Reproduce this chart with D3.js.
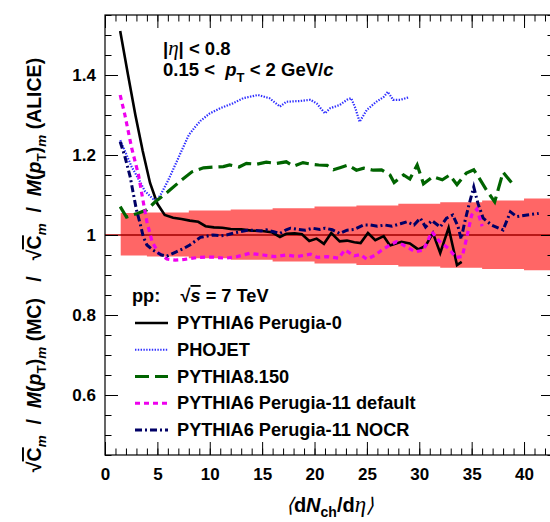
<!DOCTYPE html>
<html>
<head>
<meta charset="utf-8">
<script src="https://cdn.jsdelivr.net/npm/d3@7"></script>
<style>
    body { margin: 0; background: #fff; }
    svg { display: block; font-family: "Liberation Sans", Arial, sans-serif; font-weight: bold; }
    svg text { white-space: pre; }
    .ol { text-decoration: overline; }
</style>
</head>
<body>
<svg id="chart" width="550" height="522"></svg>
<script>
// values, <dNch/deta> on x, ratio on y

var p0X = [1.45, 2.2, 2.9, 3.6, 4.3, 5.0, 5.7, 6.5, 7.3, 8.1, 8.9, 9.6, 10.4, 11.2, 12.0, 13.0, 14.0, 15.0, 15.9, 16.7, 17.3, 18.1, 18.8, 19.5, 20.2, 20.9, 21.6, 22.4, 23.1, 23.8, 24.4, 25.1, 25.8, 26.6, 27.2, 28.3, 29.1, 29.9, 30.6, 31.3, 32.0, 32.8, 33.6, 34.05];
var p0Y = [1.51, 1.40, 1.30, 1.21, 1.13, 1.078, 1.05, 1.043, 1.04, 1.036, 1.033, 1.022, 1.019, 1.018, 1.015, 1.014, 1.011, 1.010, 1.007, 0.995, 1.003, 1.004, 1.002, 0.985, 0.991, 0.978, 1.005, 0.984, 0.986, 0.982, 0.980, 1.005, 0.987, 0.997, 0.974, 0.983, 0.979, 0.964, 0.973, 1.005, 0.955, 1.018, 0.925, 0.933];

var phoX = [1.45, 1.9, 2.55, 3.2, 3.8, 4.6, 5.0, 5.4, 6.0, 6.7, 7.3, 8.0, 8.6, 9.1, 10.0, 11.0, 12.2, 13.2, 14.6, 15.7, 16.7, 17.3, 18.6, 19.6, 20.2, 21.0, 21.5, 22.4, 23.1, 23.5, 23.9, 24.3, 25.0, 25.9, 26.6, 27.0, 27.5, 28.2, 28.95];
var phoY = [1.237, 1.21, 1.17, 1.14, 1.11, 1.09, 1.088, 1.105, 1.135, 1.175, 1.21, 1.25, 1.27, 1.285, 1.304, 1.317, 1.329, 1.342, 1.35, 1.342, 1.321, 1.333, 1.335, 1.338, 1.329, 1.304, 1.317, 1.325, 1.338, 1.342, 1.317, 1.283, 1.313, 1.333, 1.345, 1.358, 1.338, 1.338, 1.344];

var p8X = [1.45, 2.05, 3.1, 4.0, 4.8, 6.0, 7.2, 8.3, 9.4, 10.5, 11.3, 11.9, 12.8, 13.5, 14.5, 15.4, 16.4, 17.3, 18.0, 18.9, 19.7, 20.4, 21.2, 21.8, 22.5, 23.2, 24.0, 24.7, 25.6, 26.4, 27.2, 27.6, 28.5, 29.1, 29.8, 30.4, 31.3, 32.2, 32.9, 33.6, 34.5, 35.2, 35.7, 36.4, 37.2, 38.0, 38.8];
var p8Y = [1.071, 1.045, 1.054, 1.063, 1.083, 1.108, 1.135, 1.158, 1.168, 1.170, 1.171, 1.175, 1.170, 1.179, 1.177, 1.182, 1.179, 1.183, 1.172, 1.181, 1.177, 1.175, 1.174, 1.163, 1.169, 1.175, 1.162, 1.167, 1.162, 1.163, 1.150, 1.131, 1.150, 1.140, 1.175, 1.128, 1.146, 1.138, 1.150, 1.126, 1.155, 1.163, 1.143, 1.113, 1.083, 1.157, 1.131];

var p11X = [1.45, 1.9, 2.55, 3.2, 3.65, 4.0, 4.5, 5.1, 5.9, 6.7, 7.6, 8.9, 10.2, 11.5, 12.6, 13.8, 15.1, 16.2, 17.3, 18.3, 19.6, 20.3, 21.2, 22.3, 22.9, 23.8, 24.4, 25.0, 25.8, 26.4, 27.2, 27.8, 28.4, 29.6, 30.4, 31.2, 31.9, 32.8, 33.5, 34.1, 34.5, 35.0, 35.5, 36.0];
var p11Y = [1.35, 1.30, 1.217, 1.15, 1.083, 1.033, 0.983, 0.955, 0.94, 0.937, 0.939, 0.944, 0.945, 0.942, 0.946, 0.954, 0.95, 0.946, 0.95, 0.946, 0.952, 0.944, 0.946, 0.942, 0.963, 0.948, 0.951, 0.939, 0.95, 0.962, 0.975, 0.983, 0.976, 0.958, 0.962, 1.008, 0.985, 0.966, 0.944, 0.946, 0.99, 1.05, 1.065, 1.022];

var nocrX = [1.45, 1.9, 2.4, 2.7, 3.0, 3.35, 3.65, 4.0, 4.6, 5.4, 5.9, 6.8, 7.5, 8.1, 9.1, 10.3, 11.0, 11.6, 12.3, 12.9, 13.6, 14.2, 14.9, 15.4, 16.1, 16.7, 17.3, 17.7, 18.5, 19.1, 19.8, 20.5, 21.0, 21.7, 22.4, 23.1, 23.8, 24.7, 25.3, 26.0, 26.7, 27.4, 28.2, 28.8, 29.5, 30.1, 30.6, 31.2, 32.0, 32.6, 33.2, 33.7, 34.0, 34.3, 34.7, 35.2, 35.6, 36.1, 36.9, 38.0, 38.7, 39.3, 40.3, 41.4];
var nocrY = [1.233, 1.196, 1.146, 1.104, 1.063, 1.029, 0.996, 0.975, 0.962, 0.95, 0.947, 0.958, 0.966, 0.975, 0.994, 1.0, 0.998, 1.0, 1.005, 1.008, 1.012, 1.012, 1.01, 1.013, 1.008, 1.004, 1.013, 1.017, 1.014, 1.012, 1.017, 1.014, 1.017, 1.013, 1.004, 1.012, 1.014, 1.025, 1.025, 1.022, 1.025, 1.022, 1.028, 1.033, 1.025, 1.042, 1.02, 1.036, 1.02, 1.042, 1.05, 1.021, 0.99, 1.028, 1.071, 1.12, 1.079, 1.042, 1.025, 1.0125, 1.058, 1.046, 1.05, 1.054];

// ALICE systematic band (step edges)
var bandX = [1.5, 4, 8, 12, 16, 20, 24, 28, 32, 36, 40, 42.86];
var bandUp = [1.055, 1.056, 1.061, 1.064, 1.067, 1.071, 1.074, 1.078, 1.082, 1.086, 1.091, 1.091];
var bandLow = [0.949, 0.946, 0.942, 0.938, 0.934, 0.929, 0.925, 0.921, 0.918, 0.915, 0.912, 0.912];

var xMajor = [0, 5, 10, 15, 20, 25, 30, 35, 40];
var yMajor = [0.6, 0.8, 1.0, 1.2, 1.4];
var yLabels = ["0.6", "0.8", "1", "1.2", "1.4"];

var legendNames = ["PYTHIA6 Perugia-0", "PHOJET", "PYTHIA8.150", "PYTHIA6 Perugia-11 default", "PYTHIA6 Perugia-11 NOCR"];

var series = [
    {xs: p0X, ys: p0Y, color: "#000000", width: 2.6, dash: null},
    {xs: phoX, ys: phoY, color: "#2f2fff", width: 2.2, dash: "1.4,1.4"},
    {xs: p8X, ys: p8Y, color: "#006400", width: 3.2, dash: "14,6"},
    {xs: p11X, ys: p11Y, color: "#ee00ee", width: 3.2, dash: "5,4"},
    {xs: nocrX, ys: nocrY, color: "#000066", width: 3, dash: "7,3,2,3"}
];

var xMax = 42.86;
var frameL = 105, frameR = 554, frameT = 15, frameB = 455;

var x = d3.scaleLinear().domain([0, xMax]).range([frameL, frameR]);
var y = d3.scaleLinear().domain([0.45, 1.55]).range([frameB, frameT]);

var svg = d3.select("#chart");

svg.append("clipPath").attr("id", "frame")
    .append("rect").attr("x", frameL).attr("y", frameT)
    .attr("width", frameR - frameL).attr("height", frameB - frameT);

var plot = svg.append("g").attr("clip-path", "url(#frame)");

// band
var bandPts = bandX.map(function (v, i) { return {x: v, hi: bandUp[i], lo: bandLow[i]}; });
plot.append("path")
    .datum(bandPts)
    .attr("fill", "#ff6666")
    .attr("d", d3.area().curve(d3.curveStepAfter)
        .x(function (d) { return x(d.x); })
        .y0(function (d) { return y(d.lo); })
        .y1(function (d) { return y(d.hi); }));

// reference line at 1
plot.append("line")
    .attr("x1", x(0)).attr("x2", x(xMax))
    .attr("y1", y(1)).attr("y2", y(1))
    .attr("stroke", "#a00000").attr("stroke-width", 1.5);

var line = d3.line()
    .x(function (d) { return x(d[0]); })
    .y(function (d) { return y(d[1]); });

series.forEach(function (s) {
    var pts = s.xs.map(function (v, i) { return [v, s.ys[i]]; });
    plot.append("path")
        .datum(pts)
        .attr("fill", "none")
        .attr("stroke", s.color)
        .attr("stroke-width", s.width)
        .attr("stroke-dasharray", s.dash)
        .attr("d", line);
});

// axes, ticks pointing inside like ROOT
function minorRange(a, b, step) {
    return d3.range(Math.round(a / step), Math.round(b / step) + 1).map(function (k) { return +(k * step).toFixed(4); });
}
var xMinor = minorRange(0, 42, 1);
var yMinor = minorRange(0.45, 1.55, 0.05);

function addAxis(axis, tx, ty) {
    var g = svg.append("g").attr("transform", "translate(" + tx + "," + ty + ")").call(axis);
    g.select(".domain").remove();
    g.selectAll("line").attr("stroke", "#000").attr("stroke-width", 1);
    return g;
}

var gx = addAxis(d3.axisBottom(x).tickValues(xMajor).tickSizeInner(-13).tickSizeOuter(0).tickPadding(12.5), 0, frameB);
addAxis(d3.axisBottom(x).tickValues(xMinor).tickSizeInner(-6.5).tickSizeOuter(0).tickFormat(""), 0, frameB);
addAxis(d3.axisTop(x).tickValues(xMajor).tickSizeInner(-13).tickSizeOuter(0).tickFormat(""), 0, frameT);
addAxis(d3.axisTop(x).tickValues(xMinor).tickSizeInner(-6.5).tickSizeOuter(0).tickFormat(""), 0, frameT);

var gy = addAxis(d3.axisLeft(y).tickValues(yMajor).tickSizeInner(-13).tickSizeOuter(0).tickPadding(9)
    .tickFormat(function (d, i) { return yLabels[i]; }), frameL, 0);
addAxis(d3.axisLeft(y).tickValues(yMinor).tickSizeInner(-6.5).tickSizeOuter(0).tickFormat(""), frameL, 0);
addAxis(d3.axisRight(y).tickValues(yMajor).tickSizeInner(-13).tickSizeOuter(0).tickFormat(""), frameR, 0);
addAxis(d3.axisRight(y).tickValues(yMinor).tickSizeInner(-6.5).tickSizeOuter(0).tickFormat(""), frameR, 0);

gx.selectAll("text").attr("font-size", 17).attr("font-weight", "bold").attr("font-family", "Liberation Sans, Arial, sans-serif").attr("fill", "#000");
gy.selectAll("text").attr("font-size", 17).attr("font-weight", "bold").attr("font-family", "Liberation Sans, Arial, sans-serif").attr("fill", "#000");

svg.append("rect")
    .attr("x", frameL).attr("y", frameT)
    .attr("width", frameR - frameL).attr("height", frameB - frameT)
    .attr("fill", "none").attr("stroke", "#000").attr("stroke-width", 1.2);

// rich text helper: parts are [text, options]
function rich(sel, parts) {
    parts.forEach(function (p) {
        var o = p[1] || {};
        var t = sel.append("tspan").text(p[0]);
        if (o.it) { t.attr("font-style", "italic"); }
        if (o.greek) { t.attr("font-family", "Liberation Serif, serif").attr("font-style", "italic").attr("font-weight", "normal"); }
        if (o.size) { t.attr("font-size", o.size); }
        if (o.dy) { t.attr("dy", o.dy); }
        if (o.cls) { t.attr("class", o.cls); }
    });
    return sel;
}

// cut labels
rich(svg.append("text").attr("x", 163).attr("y", 55).attr("font-size", 18.5),
    [["|"], ["\u03b7", {greek: true, size: 21}], ["| < 0.8"]]);
rich(svg.append("text").attr("x", 163).attr("y", 76).attr("font-size", 18.5),
    [["0.15 <  "], ["p", {it: true}], ["T", {size: 13, dy: 6}], [" < 2 GeV/", {dy: -6}], ["c", {it: true}]]);

// y title
var yt = svg.append("text")
    .attr("transform", "translate(41,265) rotate(-90)")
    .attr("text-anchor", "middle")
    .attr("font-size", 19.5);
function ratioPart(tail) {
    return [["\u221a"], ["C", {cls: "ol"}], ["m", {it: true, size: 13.5, dy: 5}],
        ["  /  ", {dy: -5}], ["M", {it: true}], ["("], ["p", {it: true}], ["T", {size: 13.5, dy: 5}],
        [")", {dy: -5}], ["m", {it: true, size: 13.5, dy: 5}], [tail, {dy: -5}]];
}
rich(yt, ratioPart(" (MC)   /   ").concat(ratioPart(" (ALICE)")));

// x title
rich(svg.append("text").attr("x", 330).attr("y", 512).attr("text-anchor", "middle").attr("font-size", 20),
    [["\u27e8", {greek: true}], ["d"], ["N", {it: true}], ["ch", {size: 14, dy: 5}], ["/d", {dy: -5}],
        ["\u03b7", {greek: true, size: 23}], ["\u27e9", {greek: true}]]);

// legend
rich(svg.append("text").attr("x", 132).attr("y", 302).attr("font-size", 18.2),
    [["pp:    \u221a"], ["s", {it: true, cls: "ol"}], [" = 7 TeV"]]);

var legY = d3.scaleLinear().domain([0, 4]).range([323, 430]);
series.forEach(function (s, i) {
    var ly = legY(i);
    svg.append("line")
        .attr("x1", 135).attr("x2", 168)
        .attr("y1", ly).attr("y2", ly)
        .attr("stroke", s.color)
        .attr("stroke-width", s.width)
        .attr("stroke-dasharray", s.dash);
    svg.append("text")
        .attr("x", 177).attr("y", ly + 6)
        .attr("font-size", 18.2)
        .text(legendNames[i]);
});
</script>
</body>
</html>
